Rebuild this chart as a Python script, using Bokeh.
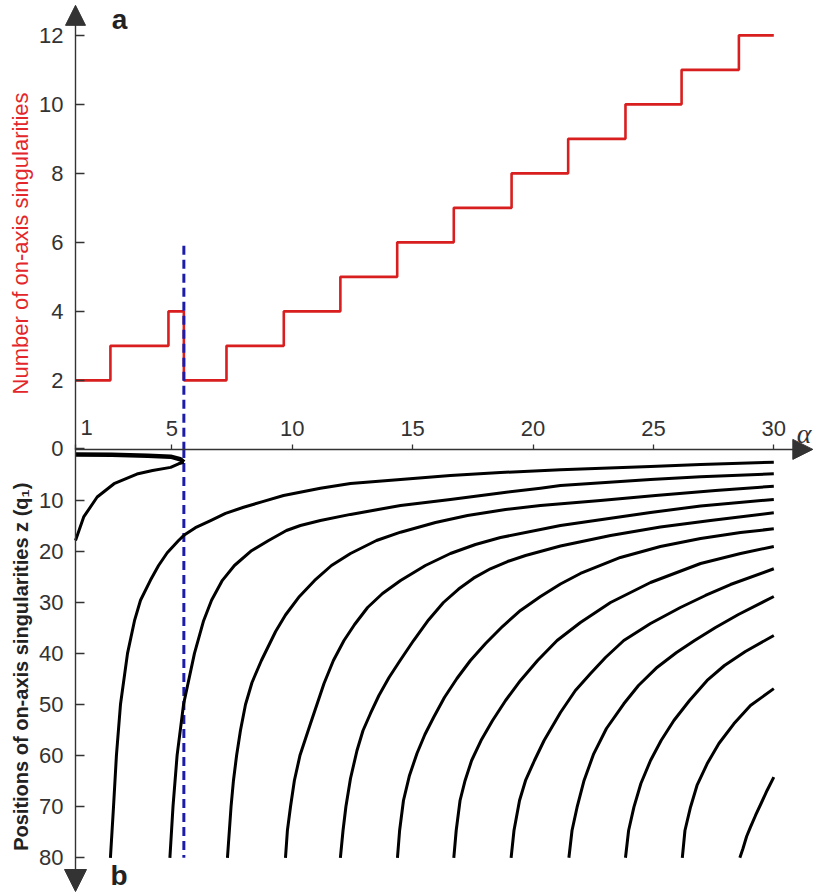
import math
from bokeh.plotting import figure
from bokeh.models import Range1d, LinearAxis, FixedTicker, Label, Arrow, NormalHead
from bokeh.embed import file_html
from bokeh.resources import INLINE

# ---------------- data ----------------
x_tick_values = [1, 5, 10, 15, 20, 25, 30]
count_tick_values = [2, 4, 6, 8, 10, 12]
z_tick_values = [0, 10, 20, 30, 40, 50, 60, 70, 80]

# panel a: number of on-axis singularities vs alpha (step function)
step_alpha = [1.0, 2.45, 4.86, 5.5, 7.27, 9.65, 12.0, 14.36, 16.71, 19.11, 21.46, 23.84, 26.17, 28.55, 30.0]
step_count = [2, 3, 4, 2, 3, 4, 5, 6, 7, 8, 9, 10, 11, 12, 12]

critical_alpha = 5.5
dashed_top_count = 5.9
dashed_bottom_z = 80

# panel b: positions z of the on-axis singularities
fold_upper_alpha = [1.0, 2.5, 4.0, 4.95, 5.35, 5.5]
fold_upper_z = [1.1, 1.15, 1.3, 1.5, 2.0, 2.6]
fold_lower_alpha = [5.5, 5.28, 4.95, 4.2, 3.55, 2.6, 1.9, 1.34, 1.17, 1.0]
fold_lower_z = [2.6, 2.9, 3.6, 4.2, 4.9, 6.8, 9.4, 13.3, 15.6, 17.9]

curve_a_alpha = [2.45, 2.58, 2.70, 2.87, 3.16, 3.45, 3.70, 4.11, 4.45, 4.81, 5.28, 5.50, 5.98, 6.61, 7.23,
                 7.98, 8.77, 9.64, 11.17, 12.42, 14.50, 16.57, 18.65, 21.14, 24.88, 26.96, 30.0]
curve_a_z = [80, 69.9, 59.9, 49.9, 40.0, 33.6, 29.6, 25.7, 22.8, 20.3, 17.9, 16.9, 15.4, 14.0, 12.6,
             11.4, 10.3, 9.1, 7.7, 6.75, 5.97, 5.19, 4.6, 4.07, 3.42, 3.03, 2.58]

curve_b_alpha = [4.92, 5.05, 5.22, 5.49, 5.94, 6.32, 6.65, 7.10, 7.60, 8.31, 9.02, 9.76, 10.34, 11.17,
                 12.42, 14.50, 16.57, 18.65, 20.31, 21.14, 24.88, 26.96, 30.0]
curve_b_z = [80, 69.9, 59.9, 49.9, 40.0, 33.6, 29.6, 25.7, 22.8, 19.9, 17.9, 15.95, 14.97, 14.0,
             12.8, 11.06, 9.88, 8.61, 7.67, 7.14, 5.97, 5.44, 4.85]

curve_c_alpha = [7.31, 7.46, 7.56, 7.69, 7.85, 8.06, 8.33, 8.72, 9.31, 9.72, 10.30, 10.93, 11.63, 12.42,
                 13.50, 14.50, 15.95, 17.28, 18.86, 20.31, 22.80, 25.09, 27.58, 30.0]
curve_c_z = [80, 69.96, 64.87, 59.98, 55.09, 50.0, 45.69, 41.39, 35.71, 32.49, 28.86, 25.73, 22.80, 20.45,
             17.91, 16.28, 14.38, 13.01, 11.84, 11.06, 10.08, 9.10, 8.12, 7.28]

curve_d_alpha = [9.72, 9.80, 9.93, 10.09, 10.32, 10.76, 11.32, 11.71, 12.15, 12.59, 13.13, 13.75, 14.50,
                 15.53, 16.57, 17.61, 18.65, 20.52, 21.14, 24.88, 26.96, 30.0]
curve_d_z = [80, 74.66, 69.96, 64.87, 60.0, 53.72, 45.89, 41.39, 37.48, 34.34, 31.02, 28.28, 25.73,
             22.80, 20.45, 18.69, 17.32, 15.56, 14.97, 12.43, 11.15, 9.88]

curve_e_alpha = [12.00, 12.11, 12.23, 12.42, 12.69, 12.94, 13.25, 13.60, 14.02, 14.48, 15.04, 15.66, 16.28,
                 16.91, 17.53, 18.23, 18.94, 19.69, 21.14, 23.22, 25.29, 27.37, 30.0]
curve_e_z = [80, 74.66, 69.96, 64.48, 59.0, 55.09, 51.76, 48.24, 44.72, 41.39, 37.48, 33.46, 30.04,
             27.40, 25.28, 23.44, 22.02, 20.84, 18.98, 16.93, 15.26, 13.99, 12.48]

curve_f_alpha = [14.37, 14.46, 14.62, 14.87, 15.18, 15.51, 15.87, 16.32, 16.84, 17.40, 18.03, 18.73, 19.48,
                 20.31, 21.14, 21.97, 23.63, 25.29, 26.96, 28.62, 30.0]
curve_f_z = [80, 74.66, 68.79, 63.89, 59.59, 55.87, 52.54, 48.63, 44.91, 41.39, 38.06, 34.74, 31.60,
             28.86, 26.42, 24.36, 21.23, 19.08, 17.51, 16.34, 15.62]

curve_g_alpha = [16.71, 16.81, 16.97, 17.18, 17.45, 17.84, 18.32, 18.86, 19.48, 20.19, 21.00, 21.97, 23.22,
                 24.88, 26.96, 28.62, 30.0]
curve_g_z = [80, 74.66, 68.79, 64.87, 60.96, 57.05, 53.13, 49.22, 45.30, 41.39, 37.48, 33.95, 30.04,
             26.13, 22.41, 20.45, 19.08]

curve_h_alpha = [19.09, 19.21, 19.44, 19.69, 20.06, 20.46, 21.14, 21.76, 22.39, 23.01, 23.77, 24.88,
                 26.12, 27.16, 28.20, 30.0]
curve_h_z = [80, 74.66, 68.79, 64.87, 60.96, 57.05, 51.57, 47.26, 43.93, 40.80, 37.48, 34.15,
             31.02, 28.67, 26.52, 23.44]

curve_i_alpha = [21.49, 21.62, 21.83, 22.12, 22.52, 23.05, 23.77, 24.38, 25.16, 25.96, 26.71, 27.58,
                 28.53, 30.0]
curve_i_z = [80, 74.66, 70.10, 64.87, 59.65, 54.70, 49.86, 46.28, 42.70, 39.82, 37.48, 34.93,
             32.39, 28.86]

curve_j_alpha = [23.84, 23.97, 24.19, 24.48, 24.88, 25.32, 25.85, 26.50, 27.23, 27.95, 28.82, 30.0]
curve_j_z = [80, 74.66, 70.10, 65.46, 60.96, 57.05, 53.13, 49.22, 45.30, 42.37, 39.63, 36.50]

curve_k_alpha = [26.20, 26.31, 26.54, 26.81, 27.23, 27.72, 28.34, 29.03, 30.0]
curve_k_z = [80, 74.66, 70.10, 65.85, 61.60, 57.63, 53.78, 50.20, 46.90]

curve_l_alpha = [28.59, 28.72, 28.87, 29.03, 29.24, 29.49, 29.72, 30.0]
curve_l_z = [80, 78.18, 75.83, 74.0, 71.72, 69.18, 66.83, 64.2]

# ---------------- styling ----------------
FONT = "Liberation Sans"
AX = "#333333"
RED = "#d81e1e"
LABEL_RED = "#e3262b"
BLUE = "#1c1ca8"

p = figure(width=814, height=895,
           x_range=Range1d(-2.115, 31.69), y_range=Range1d(-12.93, 13.01),
           x_axis_location=None, y_axis_location=None,
           toolbar_location=None, output_backend="svg", title=None,
           min_border=0, outline_line_color=None,
           background_fill_color="white", border_fill_color="white")
p.extra_y_ranges = {"z": Range1d(87.38, -87.77)}
p.grid.visible = False


def style_axis(ax):
    ax.axis_line_color = AX
    ax.axis_line_width = 1.4
    ax.major_tick_line_color = AX
    ax.major_tick_line_width = 1.3
    ax.minor_tick_line_color = None
    ax.major_label_text_font = FONT
    ax.major_label_text_font_size = "22px"
    ax.major_label_text_color = AX


xaxis = LinearAxis(ticker=FixedTicker(ticks=x_tick_values), fixed_location=0, bounds=(1, 31.3))
style_axis(xaxis)
xaxis.major_tick_in = 0
xaxis.major_tick_out = 5
xaxis.major_label_standoff = 8
xaxis.major_label_overrides = {1: ""}
p.add_layout(xaxis, "above")

count_axis = LinearAxis(ticker=FixedTicker(ticks=count_tick_values), fixed_location=1, bounds=(0, 12.6))
style_axis(count_axis)
count_axis.major_tick_in = 9
count_axis.major_tick_out = 0
count_axis.major_label_standoff = 12
p.add_layout(count_axis, "left")

z_axis = LinearAxis(y_range_name="z", ticker=FixedTicker(ticks=z_tick_values), fixed_location=1, bounds=(0, 85))
style_axis(z_axis)
z_axis.major_tick_in = 9
z_axis.major_tick_out = 0
z_axis.major_label_standoff = 12
p.add_layout(z_axis, "left")

# arrow heads on the axes
p.add_layout(Arrow(end=NormalHead(size=20, fill_color=AX, line_color=AX), line_alpha=0,
                   x_start=1, y_start=12.0, x_end=1, y_end=12.87))
p.add_layout(Arrow(end=NormalHead(size=22, fill_color=AX, line_color=AX), line_alpha=0,
                   x_start=1, y_start=80, x_end=1, y_end=86.6, y_range_name="z"))
p.add_layout(Arrow(end=NormalHead(size=20, fill_color=AX, line_color=AX), line_alpha=0,
                   x_start=30, y_start=0, x_end=31.62, y_end=0))

# panel a
p.step(step_alpha, step_count, mode="after", line_color=RED, line_width=2.6)

# dashed critical line
p.line([critical_alpha, critical_alpha], [dashed_top_count, 0], line_color=BLUE, line_width=3, line_dash="9 5")
p.line([critical_alpha, critical_alpha], [0, dashed_bottom_z], y_range_name="z",
       line_color=BLUE, line_width=3, line_dash="9 5")

# panel b
p.line(fold_upper_alpha, fold_upper_z, y_range_name="z", line_color="black", line_width=4.5, line_join="round")
p.line(fold_lower_alpha, fold_lower_z, y_range_name="z", line_color="black", line_width=3, line_join="round")
curves = [
    (curve_a_alpha, curve_a_z), (curve_b_alpha, curve_b_z),
    (curve_c_alpha, curve_c_z), (curve_d_alpha, curve_d_z), (curve_e_alpha, curve_e_z),
    (curve_f_alpha, curve_f_z), (curve_g_alpha, curve_g_z), (curve_h_alpha, curve_h_z),
    (curve_i_alpha, curve_i_z), (curve_j_alpha, curve_j_z), (curve_k_alpha, curve_k_z),
    (curve_l_alpha, curve_l_z),
]
for ca, cz in curves:
    p.line(ca, cz, y_range_name="z", line_color="black", line_width=3, line_join="round")

# texts
p.add_layout(Label(x=1, y=0, x_offset=11, y_offset=14, text="1", text_align="center",
                   text_baseline="bottom", text_font=FONT, text_font_size="22px", text_color=AX))
p.add_layout(Label(x=-1.28, y=5.97, text="Number of on-axis singularities", angle=math.pi / 2,
                   text_align="center", text_baseline="middle", text_color=LABEL_RED,
                   text_font=FONT, text_font_size="22px"))
p.add_layout(Label(x=-1.28, y=42.6, y_range_name="z", text="Positions of on-axis singularities z (q\u2081)",
                   angle=math.pi / 2, text_align="center", text_baseline="middle", text_color="#222222",
                   text_font=FONT, text_font_size="20px", text_font_style="bold"))
p.add_layout(Label(x=2.5, y=12.45, text="a", text_font=FONT, text_font_size="28px",
                   text_font_style="bold", text_color="#222222", text_baseline="alphabetic"))
p.add_layout(Label(x=2.45, y=83.5, y_range_name="z", text="b", text_font=FONT, text_font_size="28px",
                   text_font_style="bold", text_color="#222222", text_baseline="alphabetic"))
p.add_layout(Label(x=30.95, y=0.46, text="\u03b1", text_font="Liberation Serif", text_font_size="28px",
                   text_font_style="italic", text_color=AX, text_baseline="alphabetic"))

open("out.html", "w").write(file_html(p, INLINE))
